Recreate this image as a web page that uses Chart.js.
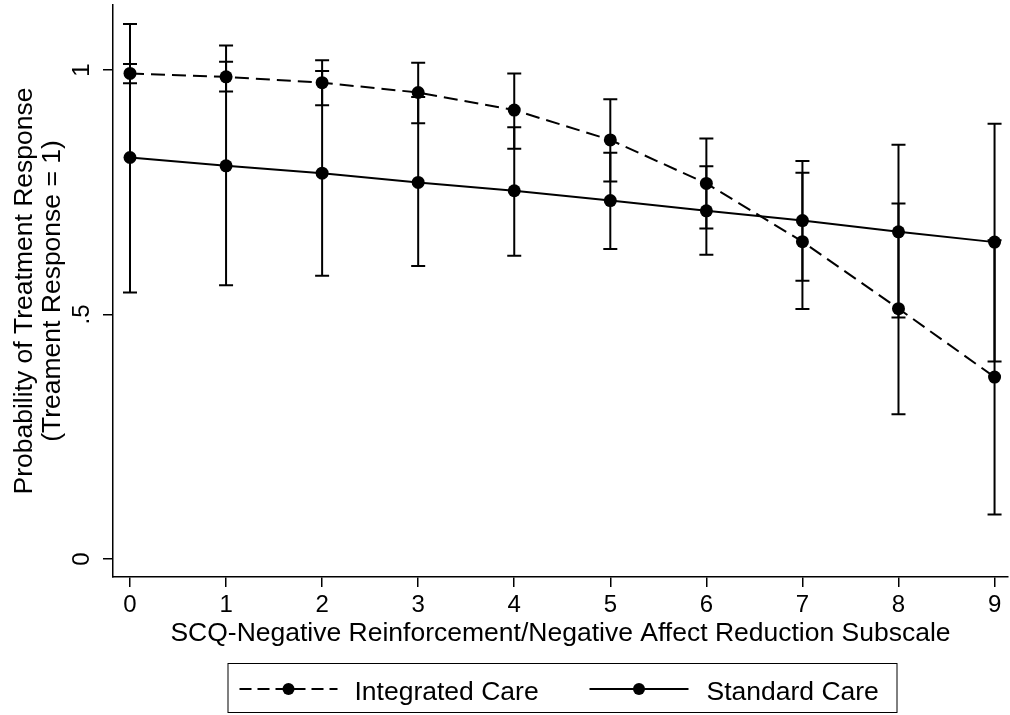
<!DOCTYPE html>
<html>
<head>
<meta charset="utf-8">
<script src="https://cdn.jsdelivr.net/npm/chart.js@4.4.1/dist/chart.umd.min.js"></script>
<style>
  body { margin: 0; background: #fff; }
  canvas { display: block; }
</style>
</head>
<body>
<canvas id="marginsChart" width="1010" height="715"></canvas>
<script>
/*
DATA
*/
const scqValues = [0, 1, 2, 3, 4, 5, 6, 7, 8, 9];
const yTickValues = [0, 0.5, 1];

const integratedProb  = [0.993, 0.986, 0.974, 0.954, 0.918, 0.857, 0.768, 0.649, 0.512, 0.372];
const integratedLower = [0.973, 0.956, 0.928, 0.891, 0.839, 0.772, 0.676, 0.511, 0.296, 0.091];
const integratedUpper = [1.012, 1.017, 1.020, 1.015, 0.993, 0.940, 0.860, 0.790, 0.727, 0.652];

const standardProb  = [0.821, 0.804, 0.789, 0.770, 0.753, 0.733, 0.712, 0.692, 0.669, 0.648];
const standardLower = [0.545, 0.560, 0.579, 0.599, 0.620, 0.634, 0.622, 0.569, 0.494, 0.404];
const standardUpper = [1.094, 1.050, 0.998, 0.945, 0.883, 0.831, 0.803, 0.814, 0.847, 0.890];

const FONT = "'Liberation Sans', Arial, Helvetica, sans-serif";

/*
ERROR BARS (confidence intervals)
*/
const intervals = [
  { lower: integratedLower, upper: integratedUpper },
  { lower: standardLower, upper: standardUpper }
];

const errorBars = {
  id: 'errorBars',
  beforeDatasetsDraw(chart) {
    const ctx = chart.ctx;
    const xs = chart.scales.x;
    const ys = chart.scales.y;
    ctx.save();
    ctx.strokeStyle = '#000';
    ctx.lineWidth = 2;
    for (const band of intervals) {
      band.lower.forEach((lo, i) => {
        const px = xs.getPixelForValue(scqValues[i]);
        const top = ys.getPixelForValue(band.upper[i]);
        const bot = ys.getPixelForValue(lo);
        ctx.beginPath();
        ctx.moveTo(px, top); ctx.lineTo(px, bot);
        ctx.moveTo(px - 7, top); ctx.lineTo(px + 7, top);
        ctx.moveTo(px - 7, bot); ctx.lineTo(px + 7, bot);
        ctx.stroke();
      });
    }
    ctx.restore();
  }
};

/*
LEGEND (boxed, below the axis title)
*/
const boxedLegend = {
  id: 'boxedLegend',
  afterDraw(chart) {
    const ctx = chart.ctx;
    const cx = (chart.chartArea.left + chart.chartArea.right) / 2;
    const midY = 689;
    ctx.save();
    ctx.strokeStyle = '#000';
    ctx.lineWidth = 1;
    ctx.strokeRect(cx - 332.5, 663.5, 669, 49);

    const items = [
      { label: 'Integrated Care', dash: [12, 6], from: cx - 321, to: cx - 223, text: cx - 206 },
      { label: 'Standard Care', dash: [], from: cx + 29, to: cx + 128, text: cx + 146 }
    ];
    ctx.font = '26.5px ' + FONT;
    ctx.fillStyle = '#000';
    ctx.textBaseline = 'alphabetic';
    for (const it of items) {
      ctx.lineWidth = 2;
      ctx.setLineDash(it.dash);
      ctx.beginPath();
      ctx.moveTo(it.from, midY);
      ctx.lineTo(it.to, midY);
      ctx.stroke();
      ctx.setLineDash([]);
      ctx.beginPath();
      ctx.arc((it.from + it.to) / 2, midY, 6, 0, Math.PI * 2);
      ctx.fill();
      ctx.fillText(it.label, it.text, 700);
    }
    ctx.restore();
  }
};

// keep the plot region where the reference has it: no extra room for edge labels
const noEdgePadding = (scale) => {
  scale.paddingTop = 0;
  scale.paddingBottom = 0;
  scale.paddingLeft = 0;
  scale.paddingRight = 0;
};

/*
CHART
*/
const toPoints = (vals) => vals.map((v, i) => ({ x: scqValues[i], y: v }));

const marginsData = {
  datasets: [{
    label: 'Integrated Care',
    data: toPoints(integratedProb),
    borderColor: '#000',
    backgroundColor: '#000',
    borderWidth: 2,
    borderDash: [14, 7],
    pointRadius: 6.5,
    pointBorderWidth: 0,
    pointBackgroundColor: '#000',
    tension: 0
  }, {
    label: 'Standard Care',
    data: toPoints(standardProb),
    borderColor: '#000',
    backgroundColor: '#000',
    borderWidth: 2,
    pointRadius: 6.5,
    pointBorderWidth: 0,
    pointBackgroundColor: '#000',
    tension: 0
  }]
};

const marginsConfig = {
  type: 'line',
  data: marginsData,
  options: {
    responsive: false,
    animation: false,
    layout: { autoPadding: false, padding: { top: 5, right: 2, bottom: 61, left: 0 } },
    plugins: {
      legend: { display: false },
      tooltip: { enabled: false }
    },
    scales: {
      x: {
        type: 'linear',
        min: -0.177,
        max: 9.14,
        afterBuildTicks: (scale) => { scale.ticks = scqValues.map(v => ({ value: v })); },
        afterFit: (scale) => { scale.height = 77; noEdgePadding(scale); },
        border: { display: true, color: '#000', width: 1.5 },
        grid: { drawOnChartArea: false, color: '#000', lineWidth: 1.5, tickLength: 10 },
        ticks: { color: '#000', padding: 4, font: { family: FONT, size: 24 }, maxRotation: 0 },
        title: {
          display: true,
          text: 'SCQ-Negative Reinforcement/Negative Affect Reduction Subscale',
          color: '#000',
          font: { family: FONT, size: 26.5, lineHeight: 1.06 },
          padding: { top: 0, bottom: 6 }
        }
      },
      y: {
        type: 'linear',
        min: -0.0368,
        max: 1.1329,
        afterBuildTicks: (scale) => { scale.ticks = yTickValues.map(v => ({ value: v })); },
        afterFit: (scale) => { scale.width = 113; noEdgePadding(scale); },
        border: { display: true, color: '#000', width: 1.5 },
        grid: { drawOnChartArea: false, color: '#000', lineWidth: 1.5, tickLength: 10 },
        ticks: {
          color: '#000',
          padding: 11,
          minRotation: 90,
          maxRotation: 90,
          crossAlign: 'center',
          font: { family: FONT, size: 24 },
          callback: (v) => String(v).replace(/^0\./, '.')
        },
        title: {
          display: true,
          text: ['Probability of Treatment Response', '(Treament Response = 1)'],
          color: '#000',
          font: { family: FONT, size: 26.5, lineHeight: 1.06 },
          padding: { top: 11, bottom: 0 }
        }
      }
    }
  },
  plugins: [errorBars, boxedLegend]
};

const marginsChart = new Chart(
  document.getElementById('marginsChart'),
  marginsConfig
);
</script>
</body>
</html>
